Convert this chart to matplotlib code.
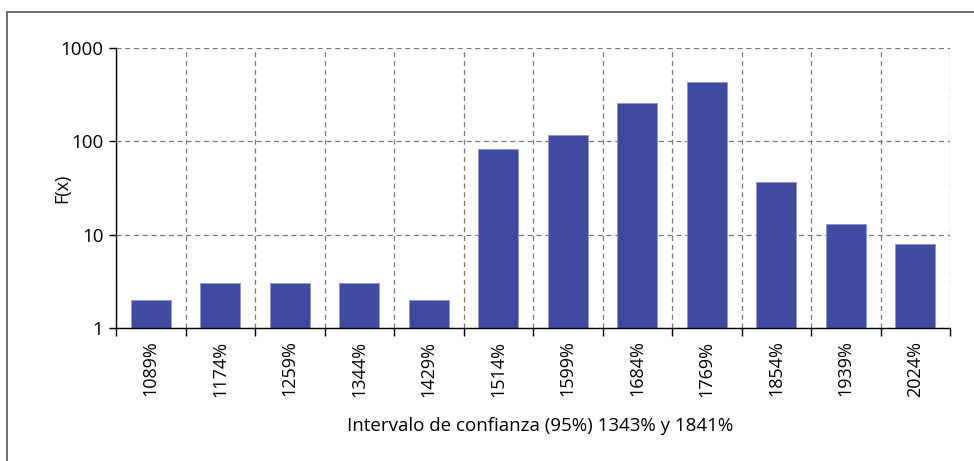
import matplotlib
matplotlib.use("Agg")
import matplotlib.pyplot as plt
from matplotlib.patches import Rectangle
import numpy as np

categories = ["1089%", "1174%", "1259%", "1344%", "1429%", "1514%",
              "1599%", "1684%", "1769%", "1854%", "1939%", "2024%"]
values = [2, 3, 3, 3, 2, 83, 117, 260, 436, 37, 13, 8]
y_ticks = [1, 10, 100, 1000]
y_tick_labels = ["1", "10", "100", "1000"]
x_title = "Intervalo de confianza (95%) 1343% y 1841%"
y_title = "F(x)"

plt.rcParams['font.family'] = ['Open Sans', 'DejaVu Sans']

W, H = 974, 461
fig = plt.figure(figsize=(W / 100, H / 100), dpi=100)
ax = fig.add_axes([116 / W, 1 - 328 / H, (950 - 116) / W, (328 - 48) / H])

x = np.arange(len(categories))
ax.bar(x, values, width=0.58, color="#3F4BA0",
       edgecolor="#8F96CC", linewidth=0.6, zorder=3)
ax.set_yscale("log")
ax.set_ylim(1, 1000)
ax.set_xlim(-0.5, len(categories) - 0.5)

ax.set_yticks(y_ticks)
ax.set_yticklabels(y_tick_labels, fontsize=13.5)
ax.yaxis.set_minor_locator(matplotlib.ticker.NullLocator())
ax.tick_params(axis="y", which="major", length=5, width=1, color="black", pad=4)

ax.set_xticks(x)
ax.set_xticklabels(categories, rotation=90, fontsize=13)
ax.tick_params(axis="x", which="major", length=0, pad=9)
ax.set_xticks(np.arange(len(categories) + 1) - 0.5, minor=True)
ax.tick_params(axis="x", which="minor", length=6, width=1, color="black")

ax.grid(True, axis="y", which="major", linestyle=(0, (4, 3)), color="#777777", linewidth=0.9, zorder=0)
ax.grid(True, axis="x", which="minor", linestyle=(0, (4, 3)), color="#777777", linewidth=0.9, zorder=0)
ax.grid(False, axis="x", which="major")

for s in ["top", "right"]:
    ax.spines[s].set_visible(False)
for s in ["left", "bottom"]:
    ax.spines[s].set_color("black")
    ax.spines[s].set_linewidth(1.0)
    ax.spines[s].set_zorder(4)

fig.text(540 / W, 1 - 426 / H, x_title, ha="center", va="center", fontsize=13.5)
fig.text(62 / W, 1 - 188 / H, y_title, ha="center", va="center", rotation=90, fontsize=13)

fig.patches.append(Rectangle((7 / W, -0.05), 1.1, 1 - 12 / H + 0.05,
                             transform=fig.transFigure, fill=False,
                             edgecolor="#555555", linewidth=1.2))

fig.savefig("out.png", dpi=100, facecolor="white")
